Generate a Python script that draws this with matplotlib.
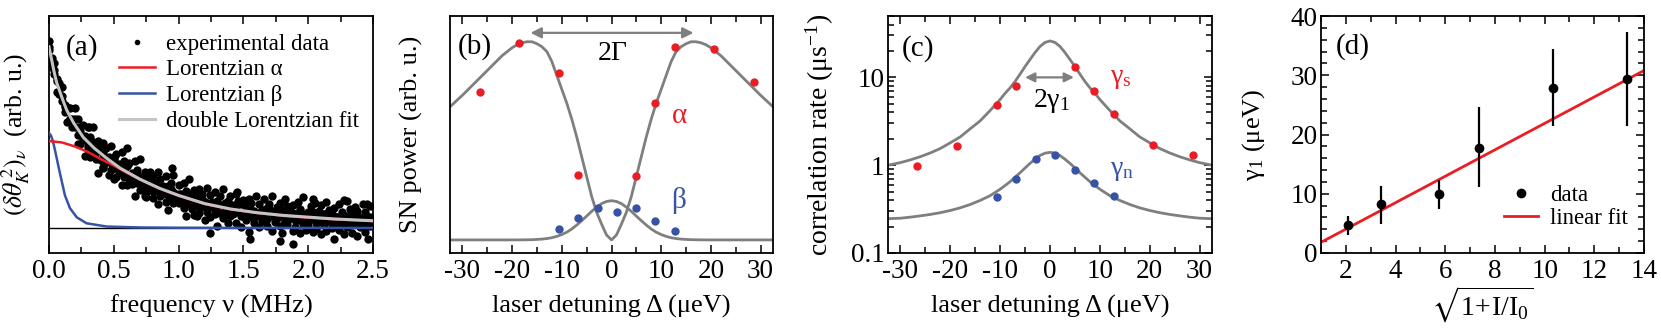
import numpy as np
import matplotlib
matplotlib.use('Agg')
import matplotlib.pyplot as plt
from matplotlib.lines import Line2D
from matplotlib.ticker import MultipleLocator, NullLocator, LogLocator, NullFormatter

plt.rcParams['font.family'] = ['Liberation Serif', 'DejaVu Serif']
plt.rcParams['mathtext.fontset'] = 'stix'
plt.rcParams['axes.unicode_minus'] = False
plt.rcParams['xtick.labelsize'] = 19.5
plt.rcParams['ytick.labelsize'] = 19.5

RED = '#ec1c24'
BLUE = '#3653a5'
GRAY = '#7f7f7f'
LGRAY = '#c4c4c4'

# ---------------- (a) noise spectrum ----------------
freq = np.arange(125) * 0.02   # MHz, measured frequency bins
spec_hi = [1.03, 0.94, 0.91, 0.82, 0.80, 0.78, 0.68, 0.67, 0.66, 0.60, 0.66, 0.60, 0.56, 0.57, 0.50,
           0.56, 0.50, 0.56, 0.45, 0.48, 0.44, 0.47, 0.44, 0.39, 0.45,
           0.39, 0.41, 0.35, 0.42, 0.37, 0.34, 0.36, 0.30, 0.37, 0.32, 0.38, 0.28, 0.31, 0.28, 0.31,
           0.285, 0.24, 0.31, 0.27, 0.23, 0.285, 0.23, 0.25, 0.29, 0.19,
           0.24, 0.185, 0.25, 0.205, 0.27, 0.175, 0.21, 0.18, 0.215, 0.19, 0.145, 0.22, 0.18, 0.145, 0.20,
           0.15, 0.175, 0.215, 0.12, 0.15, 0.175, 0.125, 0.19, 0.15, 0.13,
           0.155, 0.125, 0.16, 0.14, 0.095, 0.175, 0.135, 0.10, 0.16, 0.11, 0.135, 0.175, 0.085, 0.115, 0.14,
           0.09, 0.16, 0.12, 0.095, 0.125, 0.075, 0.145, 0.105, 0.17, 0.08,
           0.09, 0.12, 0.16, 0.065, 0.095, 0.125, 0.075, 0.145, 0.10, 0.08, 0.11, 0.06, 0.13, 0.09, 0.155,
           0.065, 0.105, 0.075, 0.115, 0.095, 0.055, 0.13, 0.09, 0.06, 0.12]
spec_lo = [0.98, 0.89, 0.85, 0.75, 0.74, 0.70, 0.64, 0.585, 0.60, 0.56, 0.56, 0.465, 0.465, 0.485, 0.40,
           0.435, 0.39, 0.435, 0.38, 0.305, 0.375, 0.335, 0.365, 0.295, 0.32,
           0.27, 0.28, 0.31, 0.235, 0.28, 0.24, 0.29, 0.245, 0.175, 0.25, 0.21, 0.24, 0.175, 0.205, 0.21,
           0.165, 0.22, 0.135, 0.175, 0.19, 0.145, 0.10, 0.165, 0.14, 0.175,
           0.14, 0.155, 0.11, 0.065, 0.13, 0.105, 0.14, 0.065, 0.085, 0.12, 0.045, 0.09, 0.06, 0.115, 0.075,
           0.01, 0.085, 0.055, 0.09, 0.03, 0.065, 0.075, 0.03, 0.09, 0.005,
           0.085, 0.045, -0.02, 0.06, 0.025, 0.065, 0.005, 0.04, 0.05, 0.01, 0.065, -0.015, 0.035, 0.055, 0.01,
           -0.03, 0.04, 0.02, 0.055, -0.015, 0.005, 0.045, -0.025, 0.02, -0.01,
           0.01, 0.05, -0.02, -0.005, 0.035, -0.035, 0.015, -0.015, 0.04, 0.0, -0.06, 0.02, -0.01, 0.03, -0.035,
           0.005, 0.015, -0.025, 0.035, -0.045, 0.005, 0.02, -0.02, -0.06, 0.01]
spec_mid = [1.00, 0.92, 0.87, 0.81, 0.74, 0.73, 0.67, 0.66, 0.60, 0.59, 0.60, 0.515, 0.535, 0.495, 0.51,
            0.455, 0.46, 0.475, 0.42, 0.425, 0.375, 0.415, 0.365, 0.385, 0.36,
            0.38, 0.33, 0.355, 0.305, 0.32, 0.34, 0.27, 0.305, 0.275, 0.30, 0.25, 0.26, 0.285, 0.235, 0.25,
            0.205, 0.25, 0.205, 0.225, 0.21, 0.205, 0.18, 0.215, 0.20, 0.155,
            0.19, 0.165, 0.19, 0.145, 0.16, 0.185, 0.14, 0.155, 0.115, 0.16, 0.115, 0.14, 0.13, 0.125, 0.105,
            0.14, 0.125, 0.085, 0.14, 0.10, 0.125, 0.085, 0.10, 0.13, 0.065,
            0.065, 0.115, 0.07, 0.10, 0.085, 0.085, 0.065, 0.10, 0.09, 0.05, 0.105, 0.065, 0.095, 0.055, 0.07,
            0.10, 0.04, 0.08, 0.055, 0.085, 0.045, 0.065, 0.095, 0.05, 0.07,
            0.04, 0.06, 0.09, 0.03, 0.065, 0.045, 0.075, 0.035, 0.05, 0.08, 0.04, 0.06, 0.02, 0.07, 0.025,
            0.055, 0.045, 0.045, 0.025, 0.065, 0.055, 0.01, 0.07, 0.03, 0.06]
out_nu = [0.95, 1.45, 1.88, 2.30, 1.78, 0.60, 2.45, 1.24, 1.55, 0.31, 0.42, 0.75, 1.12, 2.05]
out_val = [0.33, 0.20, -0.09, 0.15, -0.07, 0.44, 0.13, -0.03, -0.06, 0.56, 0.33, 0.17, 0.07, 0.14]

fit_nu = [0, 0.02, 0.04, 0.06, 0.085, 0.11, 0.137, 0.19, 0.265, 0.35, 0.445, 0.55, 0.7, 0.85,
          1.0, 1.2, 1.4, 1.6, 1.8, 2.0, 2.2, 2.5]
fit_total = [1.0, 0.93, 0.86, 0.80, 0.75, 0.70, 0.65, 0.58, 0.50, 0.44, 0.385, 0.33, 0.27, 0.22,
             0.18, 0.135, 0.105, 0.085, 0.07, 0.06, 0.05, 0.04]
lor_a_nu = [0, 0.1, 0.2, 0.3, 0.4, 0.5, 0.6, 0.7, 0.8, 0.9, 1.0, 1.2, 1.4, 1.6, 1.8, 2.0, 2.2, 2.5]
lor_a = [0.48, 0.472, 0.45, 0.42, 0.38, 0.345, 0.305, 0.268, 0.235, 0.205, 0.178, 0.133, 0.103,
         0.083, 0.068, 0.057, 0.048, 0.038]
lor_b_nu = [0, 0.015, 0.03, 0.046, 0.085, 0.123, 0.162, 0.214, 0.29, 0.445, 0.7, 1.0, 1.5, 2.5]
lor_b = [0.525, 0.51, 0.48, 0.43, 0.30, 0.18, 0.109, 0.059, 0.026, 0.008, 0.003, 0.0015, 0.0007, 0.0003]

# ---------------- (b) SN power vs detuning ----------------
det_alpha = [-26.5, -18.6, -10.6, -6.8, 4.96, 8.8, 12.8, 20.7, 28.6]
pow_alpha = [0.745, 0.992, 0.84, 0.328, 0.324, 0.689, 0.975, 0.961, 0.795]
det_beta = [-10.6, -6.8, -2.8, 1.07, 4.96, 8.8, 12.8]
pow_beta = [0.055, 0.109, 0.16, 0.14, 0.16, 0.096, 0.045]

det_fit = [-32.5, -30, -28, -26, -24, -22, -20, -19, -18, -17, -16, -15, -14, -13, -12, -11, -10,
           -9, -8, -7, -6, -5, -4, -3, -2, -1, 0, 1, 2, 3, 4, 5, 6, 7, 8, 9, 10, 11, 12, 13, 14,
           15, 16, 17, 18, 19, 20, 22, 24, 26, 28, 30, 32.5]
alpha_fit = [0.672, 0.73, 0.78, 0.83, 0.88, 0.93, 0.97, 0.985, 0.995, 1.0, 1.0, 0.99, 0.975, 0.95,
             0.90, 0.83, 0.76, 0.69, 0.61, 0.52, 0.42, 0.32, 0.22, 0.14, 0.08, 0.025, 0.0,
             0.025, 0.08, 0.14, 0.22, 0.32, 0.42, 0.52, 0.61, 0.69, 0.76, 0.83, 0.90, 0.95, 0.975,
             0.99, 1.0, 1.0, 0.995, 0.985, 0.97, 0.93, 0.88, 0.83, 0.78, 0.73, 0.672]
det_bfit = [-32.5, -20, -18, -16, -14, -13, -12, -11, -10, -9, -8, -7, -6, -5, -4, -3, -2, -1, 0,
            1, 2, 3, 4, 5, 6, 7, 8, 9, 10, 11, 12, 13, 14, 16, 18, 20, 32.5]
beta_fit = [0.0, 0.0, 0.0003, 0.0012, 0.004, 0.007, 0.011, 0.018, 0.027, 0.039, 0.055, 0.075, 0.097,
            0.12, 0.144, 0.165, 0.183, 0.194, 0.198, 0.194, 0.183, 0.165, 0.144, 0.12, 0.097, 0.075,
            0.055, 0.039, 0.027, 0.018, 0.011, 0.007, 0.004, 0.0012, 0.0003, 0.0, 0.0]

# ---------------- (c) correlation rates ----------------
det_s = [-26.6, -18.7, -10.7, -6.8, 5.0, 8.9, 12.85, 20.7, 28.65]
rate_s = [0.98, 1.66, 4.8, 7.9, 13.3, 7.0, 3.8, 1.70, 1.30]
det_n = [-10.7, -6.8, -2.8, 1.07, 5.0, 8.9, 12.85]
rate_n = [0.43, 0.69, 1.19, 1.30, 0.88, 0.62, 0.44]

det_cfit = [-32.5, -30, -28, -26, -24, -22, -20, -18, -16, -14, -12, -10, -9, -8, -7, -6, -5, -4,
            -3, -2, -1, 0, 1, 2, 3, 4, 5, 6, 7, 8, 9, 10, 12, 14, 16, 18, 20, 22, 24, 26, 28, 30, 32.5]
rate_s_fit = [1.0, 1.07, 1.15, 1.25, 1.38, 1.55, 1.8, 2.1, 2.6, 3.2, 4.2, 5.6, 6.6, 7.6, 9.0, 10.9,
              13.3, 16.0, 19.2, 22.5, 25.0, 26.0, 25.0, 22.5, 19.2, 16.0, 13.3, 10.9, 9.0, 7.6, 6.6,
              5.6, 4.2, 3.2, 2.6, 2.1, 1.8, 1.55, 1.38, 1.25, 1.15, 1.07, 1.0]
rate_n_fit = [0.246, 0.249, 0.256, 0.265, 0.275, 0.288, 0.305, 0.327, 0.357, 0.397, 0.45, 0.533,
              0.587, 0.65, 0.73, 0.82, 0.93, 1.05, 1.17, 1.29, 1.37, 1.40, 1.37, 1.29, 1.17, 1.05,
              0.93, 0.82, 0.73, 0.65, 0.587, 0.533, 0.45, 0.397, 0.357, 0.327, 0.305, 0.288, 0.275,
              0.265, 0.256, 0.249, 0.246]

# ---------------- (d) gamma_1 vs saturation ----------------
sat = [2.1, 3.4, 5.73, 7.34, 10.33, 13.3]
gamma1 = [4.7, 8.2, 9.9, 17.8, 27.9, 29.3]
err_lo = [1.7, 3.25, 2.5, 6.7, 6.4, 7.9]
err_hi = [1.6, 3.15, 2.45, 6.8, 6.5, 8.0]
lin_x = [1.0, 14.0]
lin_y = [1.8, 30.8]

# ---------------- figure ----------------
fig = plt.figure(figsize=(16.61, 3.32), dpi=100)
W, H = 1661.0, 332.0
bot = 1 - 253 / H
hgt = 237 / H
axa = fig.add_axes([49 / W, bot, 324 / W, hgt])
axb = fig.add_axes([450 / W, bot, 323 / W, hgt])
axc = fig.add_axes([888 / W, bot, 324 / W, hgt])
axd = fig.add_axes([1321 / W, bot, 323 / W, hgt])

LAB = 19
LEG = 16.5
PAN = 21
XLAB_Y = -0.175

for ax in (axa, axb, axc, axd):
    for s in ax.spines.values():
        s.set_linewidth(1.3)
    ax.tick_params(which='both', direction='in', top=True, right=True, width=1.1)
    ax.tick_params(axis='x', which='both', pad=4.5)
    ax.tick_params(axis='y', which='both', pad=2.5)
    ax.tick_params(which='major', length=6)
    ax.tick_params(which='minor', length=4)

# (a)
axa.axhline(0, color='black', lw=1.0, zorder=1)
for row in (spec_hi, spec_lo, spec_mid):
    axa.plot(freq, row, 'o', color='black', ms=6, mew=0, zorder=2)
axa.plot(out_nu, out_val, 'o', color='black', ms=6, mew=0, zorder=2)
axa.plot(lor_b_nu, lor_b, color=BLUE, lw=1.8, zorder=3)
axa.plot(lor_a_nu, lor_a, color=RED, lw=1.8, zorder=3)
axa.plot(fit_nu, fit_total, color=LGRAY, lw=2.2, zorder=4)
axa.set_xlim(0, 2.5)
axa.set_ylim(-0.138, 1.17)
axa.xaxis.set_major_locator(MultipleLocator(0.5))
axa.xaxis.set_minor_locator(MultipleLocator(0.25))
axa.xaxis.set_major_formatter(plt.FormatStrFormatter('%.1f'))
axa.yaxis.set_major_locator(NullLocator())
axa.set_xlabel('frequency ν (MHz)', fontsize=LAB)
axa.set_ylabel(r'$(\delta\theta_K^{\,2})_\nu$  (arb. u.)', fontsize=18.5)
axa.yaxis.set_label_coords(-0.052, 0.5)
axa.xaxis.set_label_coords(0.5, XLAB_Y)
axa.text(0.102, 0.869, '(a)', transform=axa.transAxes, fontsize=PAN, ha='center', va='center')
hands = [Line2D([], [], ls='none', marker='o', ms=4, color='black', mew=0),
         Line2D([], [], color=RED, lw=1.8),
         Line2D([], [], color=BLUE, lw=1.8),
         Line2D([], [], color=LGRAY, lw=2.2)]
axa.legend(hands, ['experimental data', 'Lorentzian α', 'Lorentzian β', 'double Lorentzian fit'],
           loc='upper left', bbox_to_anchor=(0.215, 0.925), frameon=False, fontsize=LEG,
           borderpad=0, borderaxespad=0, handlelength=1.6, handletextpad=0.47, labelspacing=0.2)

# (b)
axb.plot(det_fit, alpha_fit, color=GRAY, lw=2.0, zorder=2)
axb.plot(det_bfit, beta_fit, color=GRAY, lw=2.0, zorder=2)
axb.plot(det_alpha, pow_alpha, 'o', color=RED, ms=6, mew=0, zorder=3)
axb.plot(det_beta, pow_beta, 'o', color=BLUE, ms=6, mew=0, zorder=3)
axb.set_xlim(-32.5, 32.5)
axb.set_ylim(-0.066, 1.13)
axb.xaxis.set_major_locator(MultipleLocator(10))
axb.xaxis.set_minor_locator(MultipleLocator(5))
axb.yaxis.set_major_locator(NullLocator())
axb.set_xlabel('laser detuning Δ (μeV)', fontsize=LAB)
axb.set_ylabel('SN power (arb. u.)', fontsize=LAB)
axb.yaxis.set_label_coords(-0.084, 0.5)
axb.xaxis.set_label_coords(0.5, XLAB_Y)
axb.text(0.077, 0.870, '(b)', transform=axb.transAxes, fontsize=PAN, ha='center', va='center')
axb.annotate('', xy=(-16.3, 1.045), xytext=(16.5, 1.045),
             arrowprops=dict(arrowstyle='<|-|>', color=GRAY, lw=1.6, mutation_scale=16,
                             shrinkA=0, shrinkB=0))
axb.text(0.3, 0.94, '2Γ', fontsize=20, ha='center', va='center')
axb.text(13.65, 0.625, 'α', color=RED, fontsize=21, ha='center', va='center')
axb.text(13.5, 0.2, 'β', color=BLUE, fontsize=21, ha='center', va='center')

# (c)
axc.set_yscale('log')
axc.plot(det_cfit, rate_s_fit, color=GRAY, lw=2.0, zorder=2)
axc.plot(det_cfit, rate_n_fit, color=GRAY, lw=2.0, zorder=2)
axc.plot(det_s, rate_s, 'o', color=RED, ms=6, mew=0, zorder=3)
axc.plot(det_n, rate_n, 'o', color=BLUE, ms=6, mew=0, zorder=3)
axc.set_xlim(-32.5, 32.5)
axc.set_ylim(0.1, 50)
axc.xaxis.set_major_locator(MultipleLocator(10))
axc.xaxis.set_minor_locator(MultipleLocator(5))
axc.yaxis.set_minor_locator(LogLocator(base=10, subs=np.arange(2, 10), numticks=10))
axc.yaxis.set_minor_formatter(NullFormatter())
axc.set_yticks([0.1, 1, 10])
axc.set_yticklabels(['0.1', '1', '10'])
axc.set_xlabel('laser detuning Δ (μeV)', fontsize=LAB)
axc.set_ylabel('correlation rate (μs$^{\\mathregular{-1}}$)', fontsize=20)
axc.yaxis.set_label_coords(-0.162, 0.5)
axc.xaxis.set_label_coords(0.5, XLAB_Y)
axc.text(0.094, 0.864, '(c)', transform=axc.transAxes, fontsize=PAN, ha='center', va='center')
axc.annotate('', xy=(-5.0, 10), xytext=(4.8, 10),
             arrowprops=dict(arrowstyle='<|-|>', color=GRAY, lw=1.6, mutation_scale=14,
                             shrinkA=0, shrinkB=0))
axc.text(0.3, 5.4, '2γ$_\\mathregular{1}$', fontsize=20, ha='center', va='center')
axc.text(14.3, 9.6, 'γ$_\\mathregular{s}$', color=RED, fontsize=20, ha='center', va='center')
axc.text(14.5, 0.88, 'γ$_\\mathregular{n}$', color=BLUE, fontsize=20, ha='center', va='center')

# (d)
axd.plot(lin_x, lin_y, color=RED, lw=2.0, zorder=2)
axd.errorbar(sat, gamma1, yerr=[err_lo, err_hi], fmt='o', color='black', ms=7, mew=0,
             elinewidth=1.6, capsize=4, capthick=1.6, zorder=3)
axd.set_xlim(1, 14)
axd.set_ylim(0, 40)
axd.xaxis.set_major_locator(MultipleLocator(2))
axd.xaxis.set_minor_locator(MultipleLocator(1))
axd.yaxis.set_major_locator(MultipleLocator(10))
axd.yaxis.set_minor_locator(MultipleLocator(2))
axd.set_xlabel(r'$\mathregular{\sqrt{1\!+\!I/I_0}}$', fontsize=20)
axd.set_ylabel('γ$_\\mathregular{1}$ (μeV)', fontsize=LAB)
axd.yaxis.set_label_coords(-0.167, 0.5)
axd.xaxis.set_label_coords(0.5, -0.135)
axd.text(0.098, 0.870, '(d)', transform=axd.transAxes, fontsize=PAN, ha='center', va='center')
hd = [Line2D([], [], ls='none', marker='o', ms=7, color='black', mew=0),
      Line2D([], [], color=RED, lw=2.0)]
axd.legend(hd, ['data', 'linear fit'], loc='upper left', bbox_to_anchor=(0.568, 0.285),
           frameon=False, fontsize=LEG, borderpad=0, borderaxespad=0, handlelength=1.48,
           handletextpad=0.5, labelspacing=0.05)

fig.savefig('out.png', dpi=100)
